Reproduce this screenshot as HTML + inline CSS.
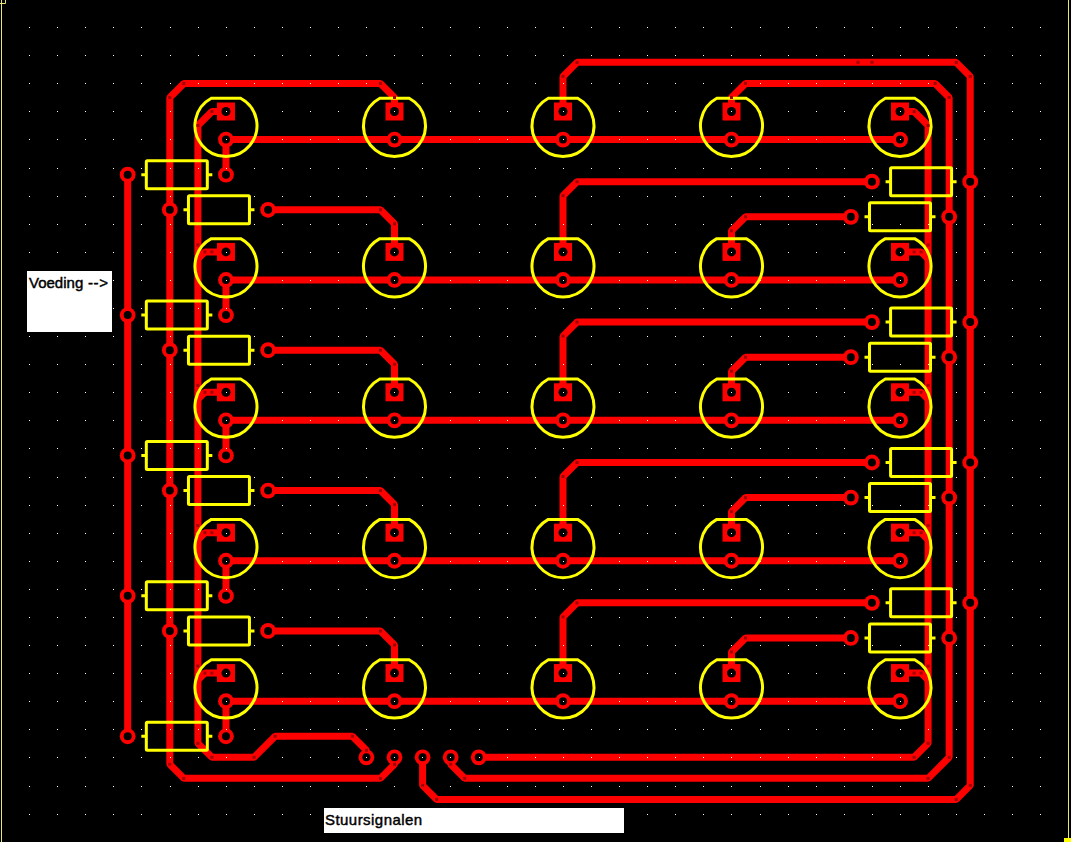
<!DOCTYPE html>
<html><head><meta charset="utf-8"><title>PCB</title>
<style>html,body{margin:0;padding:0;background:#000;width:1071px;height:842px;overflow:hidden}svg{display:block}.lbl{position:absolute;background:#fff;color:#000;font-family:"Liberation Sans",sans-serif;white-space:nowrap;overflow:hidden}</style></head><body>
<svg width="1071" height="842" viewBox="0 0 1071 842"  style="position:absolute;left:0;top:0">
<rect width="1071" height="842" fill="#000"/>
<g fill="none" stroke="#ff0000" stroke-width="7.0" stroke-linejoin="bevel" stroke-linecap="round">
<path d="M394.49 111.5 L394.49 97.46 L380.44 83.43 L183.85 83.43 L169.81 97.46 L169.81 764.32 L183.85 778.36 L380.44 778.36 L394.49 764.32 L394.49 757.3"/>
<path d="M225.97 111.5 L211.93 111.5 L197.89 125.54 L197.89 743.26 L211.93 757.3 L254.06 757.3 L275.12 736.24 L352.36 736.24 L366.4 750.28 L366.4 757.3"/>
<path d="M563.0 111.5 L563.0 76.41 L577.04 62.37 L956.19 62.37 L970.23 76.41 L970.23 785.38 L956.19 799.41 L436.61 799.41 L422.57 785.38 L422.57 757.3"/>
<path d="M731.5 111.5 L731.5 97.46 L745.55 83.43 L935.12 83.43 L949.16 97.46 L949.16 757.3 L928.1 778.36 L464.7 778.36 L450.66 764.32 L450.66 757.3"/>
<path d="M900.01 111.5 L914.06 111.5 L928.1 125.54 L928.1 743.26 L914.06 757.3 L478.74 757.3"/>
<path d="M127.68 174.68 L127.68 736.24"/>
<path d="M225.97 139.58 L900.01 139.58"/>
<path d="M225.97 139.58 L225.97 174.68"/>
<path d="M268.1 209.78 L380.44 209.78 L394.49 223.82 L394.49 251.89"/>
<path d="M871.93 181.7 L577.04 181.7 L563.0 195.74 L563.0 251.89"/>
<path d="M850.87 216.8 L745.55 216.8 L731.5 230.84 L731.5 251.89"/>
<path d="M225.97 279.97 L900.01 279.97"/>
<path d="M225.97 279.97 L225.97 315.07"/>
<path d="M225.97 251.89 L204.91 251.89 L197.89 258.91"/>
<path d="M900.01 251.89 L921.08 251.89 L928.1 258.91"/>
<path d="M268.1 350.17 L380.44 350.17 L394.49 364.21 L394.49 392.28"/>
<path d="M871.93 322.09 L577.04 322.09 L563.0 336.13 L563.0 392.28"/>
<path d="M850.87 357.19 L745.55 357.19 L731.5 371.23 L731.5 392.28"/>
<path d="M225.97 420.36 L900.01 420.36"/>
<path d="M225.97 420.36 L225.97 455.46"/>
<path d="M225.97 392.28 L204.91 392.28 L197.89 399.3"/>
<path d="M900.01 392.28 L921.08 392.28 L928.1 399.3"/>
<path d="M268.1 490.56 L380.44 490.56 L394.49 504.6 L394.49 532.67"/>
<path d="M871.93 462.48 L577.04 462.48 L563.0 476.52 L563.0 532.67"/>
<path d="M850.87 497.58 L745.55 497.58 L731.5 511.62 L731.5 532.67"/>
<path d="M225.97 560.75 L900.01 560.75"/>
<path d="M225.97 560.75 L225.97 595.85"/>
<path d="M225.97 532.67 L204.91 532.67 L197.89 539.69"/>
<path d="M900.01 532.67 L921.08 532.67 L928.1 539.69"/>
<path d="M268.1 630.95 L380.44 630.95 L394.49 644.99 L394.49 673.06"/>
<path d="M871.93 602.87 L577.04 602.87 L563.0 616.91 L563.0 673.06"/>
<path d="M850.87 637.97 L745.55 637.97 L731.5 652.01 L731.5 673.06"/>
<path d="M225.97 701.14 L900.01 701.14"/>
<path d="M225.97 701.14 L225.97 736.24"/>
<path d="M225.97 673.06 L204.91 673.06 L197.89 680.08"/>
<path d="M900.01 673.06 L921.08 673.06 L928.1 680.08"/>
</g>
<g fill="#ff0000">
<rect x="216.97" y="102.5" width="18" height="18"/>
<rect x="385.49" y="102.5" width="18" height="18"/>
<rect x="554.0" y="102.5" width="18" height="18"/>
<rect x="722.5" y="102.5" width="18" height="18"/>
<rect x="891.01" y="102.5" width="18" height="18"/>
<rect x="216.97" y="242.89" width="18" height="18"/>
<rect x="385.49" y="242.89" width="18" height="18"/>
<rect x="554.0" y="242.89" width="18" height="18"/>
<rect x="722.5" y="242.89" width="18" height="18"/>
<rect x="891.01" y="242.89" width="18" height="18"/>
<rect x="216.97" y="383.28" width="18" height="18"/>
<rect x="385.49" y="383.28" width="18" height="18"/>
<rect x="554.0" y="383.28" width="18" height="18"/>
<rect x="722.5" y="383.28" width="18" height="18"/>
<rect x="891.01" y="383.28" width="18" height="18"/>
<rect x="216.97" y="523.67" width="18" height="18"/>
<rect x="385.49" y="523.67" width="18" height="18"/>
<rect x="554.0" y="523.67" width="18" height="18"/>
<rect x="722.5" y="523.67" width="18" height="18"/>
<rect x="891.01" y="523.67" width="18" height="18"/>
<rect x="216.97" y="664.06" width="18" height="18"/>
<rect x="385.49" y="664.06" width="18" height="18"/>
<rect x="554.0" y="664.06" width="18" height="18"/>
<rect x="722.5" y="664.06" width="18" height="18"/>
<rect x="891.01" y="664.06" width="18" height="18"/>
<circle cx="225.97" cy="139.58" r="7.9"/>
<circle cx="394.49" cy="139.58" r="7.9"/>
<circle cx="563.0" cy="139.58" r="7.9"/>
<circle cx="731.5" cy="139.58" r="7.9"/>
<circle cx="900.01" cy="139.58" r="7.9"/>
<circle cx="225.97" cy="279.97" r="7.9"/>
<circle cx="394.49" cy="279.97" r="7.9"/>
<circle cx="563.0" cy="279.97" r="7.9"/>
<circle cx="731.5" cy="279.97" r="7.9"/>
<circle cx="900.01" cy="279.97" r="7.9"/>
<circle cx="225.97" cy="420.36" r="7.9"/>
<circle cx="394.49" cy="420.36" r="7.9"/>
<circle cx="563.0" cy="420.36" r="7.9"/>
<circle cx="731.5" cy="420.36" r="7.9"/>
<circle cx="900.01" cy="420.36" r="7.9"/>
<circle cx="225.97" cy="560.75" r="7.9"/>
<circle cx="394.49" cy="560.75" r="7.9"/>
<circle cx="563.0" cy="560.75" r="7.9"/>
<circle cx="731.5" cy="560.75" r="7.9"/>
<circle cx="900.01" cy="560.75" r="7.9"/>
<circle cx="225.97" cy="701.14" r="7.9"/>
<circle cx="394.49" cy="701.14" r="7.9"/>
<circle cx="563.0" cy="701.14" r="7.9"/>
<circle cx="731.5" cy="701.14" r="7.9"/>
<circle cx="900.01" cy="701.14" r="7.9"/>
<circle cx="127.68" cy="174.68" r="7.9"/>
<circle cx="225.97" cy="174.68" r="7.9"/>
<circle cx="127.68" cy="315.07" r="7.9"/>
<circle cx="225.97" cy="315.07" r="7.9"/>
<circle cx="127.68" cy="455.46" r="7.9"/>
<circle cx="225.97" cy="455.46" r="7.9"/>
<circle cx="127.68" cy="595.85" r="7.9"/>
<circle cx="225.97" cy="595.85" r="7.9"/>
<circle cx="127.68" cy="736.24" r="7.9"/>
<circle cx="225.97" cy="736.24" r="7.9"/>
<circle cx="169.81" cy="209.78" r="7.9"/>
<circle cx="268.1" cy="209.78" r="7.9"/>
<circle cx="169.81" cy="350.17" r="7.9"/>
<circle cx="268.1" cy="350.17" r="7.9"/>
<circle cx="169.81" cy="490.56" r="7.9"/>
<circle cx="268.1" cy="490.56" r="7.9"/>
<circle cx="169.81" cy="630.95" r="7.9"/>
<circle cx="268.1" cy="630.95" r="7.9"/>
<circle cx="871.93" cy="181.7" r="7.9"/>
<circle cx="970.23" cy="181.7" r="7.9"/>
<circle cx="871.93" cy="322.09" r="7.9"/>
<circle cx="970.23" cy="322.09" r="7.9"/>
<circle cx="871.93" cy="462.48" r="7.9"/>
<circle cx="970.23" cy="462.48" r="7.9"/>
<circle cx="871.93" cy="602.87" r="7.9"/>
<circle cx="970.23" cy="602.87" r="7.9"/>
<circle cx="850.87" cy="216.8" r="7.9"/>
<circle cx="949.16" cy="216.8" r="7.9"/>
<circle cx="850.87" cy="357.19" r="7.9"/>
<circle cx="949.16" cy="357.19" r="7.9"/>
<circle cx="850.87" cy="497.58" r="7.9"/>
<circle cx="949.16" cy="497.58" r="7.9"/>
<circle cx="850.87" cy="637.97" r="7.9"/>
<circle cx="949.16" cy="637.97" r="7.9"/>
<circle cx="366.4" cy="757.3" r="7.9"/>
<circle cx="394.49" cy="757.3" r="7.9"/>
<circle cx="422.57" cy="757.3" r="7.9"/>
<circle cx="450.66" cy="757.3" r="7.9"/>
<circle cx="478.74" cy="757.3" r="7.9"/>
</g>
<g fill="#000">
<circle cx="225.97" cy="111.5" r="4.5"/>
<circle cx="394.49" cy="111.5" r="4.5"/>
<circle cx="563.0" cy="111.5" r="4.5"/>
<circle cx="731.5" cy="111.5" r="4.5"/>
<circle cx="900.01" cy="111.5" r="4.5"/>
<circle cx="225.97" cy="251.89" r="4.5"/>
<circle cx="394.49" cy="251.89" r="4.5"/>
<circle cx="563.0" cy="251.89" r="4.5"/>
<circle cx="731.5" cy="251.89" r="4.5"/>
<circle cx="900.01" cy="251.89" r="4.5"/>
<circle cx="225.97" cy="392.28" r="4.5"/>
<circle cx="394.49" cy="392.28" r="4.5"/>
<circle cx="563.0" cy="392.28" r="4.5"/>
<circle cx="731.5" cy="392.28" r="4.5"/>
<circle cx="900.01" cy="392.28" r="4.5"/>
<circle cx="225.97" cy="532.67" r="4.5"/>
<circle cx="394.49" cy="532.67" r="4.5"/>
<circle cx="563.0" cy="532.67" r="4.5"/>
<circle cx="731.5" cy="532.67" r="4.5"/>
<circle cx="900.01" cy="532.67" r="4.5"/>
<circle cx="225.97" cy="673.06" r="4.5"/>
<circle cx="394.49" cy="673.06" r="4.5"/>
<circle cx="563.0" cy="673.06" r="4.5"/>
<circle cx="731.5" cy="673.06" r="4.5"/>
<circle cx="900.01" cy="673.06" r="4.5"/>
<circle cx="225.97" cy="139.58" r="4.0"/>
<circle cx="394.49" cy="139.58" r="4.0"/>
<circle cx="563.0" cy="139.58" r="4.0"/>
<circle cx="731.5" cy="139.58" r="4.0"/>
<circle cx="900.01" cy="139.58" r="4.0"/>
<circle cx="225.97" cy="279.97" r="4.0"/>
<circle cx="394.49" cy="279.97" r="4.0"/>
<circle cx="563.0" cy="279.97" r="4.0"/>
<circle cx="731.5" cy="279.97" r="4.0"/>
<circle cx="900.01" cy="279.97" r="4.0"/>
<circle cx="225.97" cy="420.36" r="4.0"/>
<circle cx="394.49" cy="420.36" r="4.0"/>
<circle cx="563.0" cy="420.36" r="4.0"/>
<circle cx="731.5" cy="420.36" r="4.0"/>
<circle cx="900.01" cy="420.36" r="4.0"/>
<circle cx="225.97" cy="560.75" r="4.0"/>
<circle cx="394.49" cy="560.75" r="4.0"/>
<circle cx="563.0" cy="560.75" r="4.0"/>
<circle cx="731.5" cy="560.75" r="4.0"/>
<circle cx="900.01" cy="560.75" r="4.0"/>
<circle cx="225.97" cy="701.14" r="4.0"/>
<circle cx="394.49" cy="701.14" r="4.0"/>
<circle cx="563.0" cy="701.14" r="4.0"/>
<circle cx="731.5" cy="701.14" r="4.0"/>
<circle cx="900.01" cy="701.14" r="4.0"/>
<circle cx="127.68" cy="174.68" r="4.0"/>
<circle cx="225.97" cy="174.68" r="4.0"/>
<circle cx="127.68" cy="315.07" r="4.0"/>
<circle cx="225.97" cy="315.07" r="4.0"/>
<circle cx="127.68" cy="455.46" r="4.0"/>
<circle cx="225.97" cy="455.46" r="4.0"/>
<circle cx="127.68" cy="595.85" r="4.0"/>
<circle cx="225.97" cy="595.85" r="4.0"/>
<circle cx="127.68" cy="736.24" r="4.0"/>
<circle cx="225.97" cy="736.24" r="4.0"/>
<circle cx="169.81" cy="209.78" r="4.0"/>
<circle cx="268.1" cy="209.78" r="4.0"/>
<circle cx="169.81" cy="350.17" r="4.0"/>
<circle cx="268.1" cy="350.17" r="4.0"/>
<circle cx="169.81" cy="490.56" r="4.0"/>
<circle cx="268.1" cy="490.56" r="4.0"/>
<circle cx="169.81" cy="630.95" r="4.0"/>
<circle cx="268.1" cy="630.95" r="4.0"/>
<circle cx="871.93" cy="181.7" r="4.0"/>
<circle cx="970.23" cy="181.7" r="4.0"/>
<circle cx="871.93" cy="322.09" r="4.0"/>
<circle cx="970.23" cy="322.09" r="4.0"/>
<circle cx="871.93" cy="462.48" r="4.0"/>
<circle cx="970.23" cy="462.48" r="4.0"/>
<circle cx="871.93" cy="602.87" r="4.0"/>
<circle cx="970.23" cy="602.87" r="4.0"/>
<circle cx="850.87" cy="216.8" r="4.0"/>
<circle cx="949.16" cy="216.8" r="4.0"/>
<circle cx="850.87" cy="357.19" r="4.0"/>
<circle cx="949.16" cy="357.19" r="4.0"/>
<circle cx="850.87" cy="497.58" r="4.0"/>
<circle cx="949.16" cy="497.58" r="4.0"/>
<circle cx="850.87" cy="637.97" r="4.0"/>
<circle cx="949.16" cy="637.97" r="4.0"/>
<circle cx="366.4" cy="757.3" r="4.0"/>
<circle cx="394.49" cy="757.3" r="4.0"/>
<circle cx="422.57" cy="757.3" r="4.0"/>
<circle cx="450.66" cy="757.3" r="4.0"/>
<circle cx="478.74" cy="757.3" r="4.0"/>
</g>
<g fill="#fff">
<rect x="29" y="27" width="1" height="1"/>
<rect x="29" y="55" width="1" height="1"/>
<rect x="29" y="83" width="1" height="1"/>
<rect x="29" y="111" width="1" height="1"/>
<rect x="29" y="139" width="1" height="1"/>
<rect x="29" y="168" width="1" height="1"/>
<rect x="29" y="196" width="1" height="1"/>
<rect x="29" y="224" width="1" height="1"/>
<rect x="29" y="252" width="1" height="1"/>
<rect x="29" y="280" width="1" height="1"/>
<rect x="29" y="308" width="1" height="1"/>
<rect x="29" y="336" width="1" height="1"/>
<rect x="29" y="364" width="1" height="1"/>
<rect x="29" y="392" width="1" height="1"/>
<rect x="29" y="420" width="1" height="1"/>
<rect x="29" y="448" width="1" height="1"/>
<rect x="29" y="477" width="1" height="1"/>
<rect x="29" y="505" width="1" height="1"/>
<rect x="29" y="533" width="1" height="1"/>
<rect x="29" y="561" width="1" height="1"/>
<rect x="29" y="589" width="1" height="1"/>
<rect x="29" y="617" width="1" height="1"/>
<rect x="29" y="645" width="1" height="1"/>
<rect x="29" y="673" width="1" height="1"/>
<rect x="29" y="701" width="1" height="1"/>
<rect x="29" y="729" width="1" height="1"/>
<rect x="29" y="757" width="1" height="1"/>
<rect x="29" y="786" width="1" height="1"/>
<rect x="29" y="814" width="1" height="1"/>
<rect x="57" y="27" width="1" height="1"/>
<rect x="57" y="55" width="1" height="1"/>
<rect x="57" y="83" width="1" height="1"/>
<rect x="57" y="111" width="1" height="1"/>
<rect x="57" y="139" width="1" height="1"/>
<rect x="57" y="168" width="1" height="1"/>
<rect x="57" y="196" width="1" height="1"/>
<rect x="57" y="224" width="1" height="1"/>
<rect x="57" y="252" width="1" height="1"/>
<rect x="57" y="280" width="1" height="1"/>
<rect x="57" y="308" width="1" height="1"/>
<rect x="57" y="336" width="1" height="1"/>
<rect x="57" y="364" width="1" height="1"/>
<rect x="57" y="392" width="1" height="1"/>
<rect x="57" y="420" width="1" height="1"/>
<rect x="57" y="448" width="1" height="1"/>
<rect x="57" y="477" width="1" height="1"/>
<rect x="57" y="505" width="1" height="1"/>
<rect x="57" y="533" width="1" height="1"/>
<rect x="57" y="561" width="1" height="1"/>
<rect x="57" y="589" width="1" height="1"/>
<rect x="57" y="617" width="1" height="1"/>
<rect x="57" y="645" width="1" height="1"/>
<rect x="57" y="673" width="1" height="1"/>
<rect x="57" y="701" width="1" height="1"/>
<rect x="57" y="729" width="1" height="1"/>
<rect x="57" y="757" width="1" height="1"/>
<rect x="57" y="786" width="1" height="1"/>
<rect x="57" y="814" width="1" height="1"/>
<rect x="85" y="27" width="1" height="1"/>
<rect x="85" y="55" width="1" height="1"/>
<rect x="85" y="83" width="1" height="1"/>
<rect x="85" y="111" width="1" height="1"/>
<rect x="85" y="139" width="1" height="1"/>
<rect x="85" y="168" width="1" height="1"/>
<rect x="85" y="196" width="1" height="1"/>
<rect x="85" y="224" width="1" height="1"/>
<rect x="85" y="252" width="1" height="1"/>
<rect x="85" y="280" width="1" height="1"/>
<rect x="85" y="308" width="1" height="1"/>
<rect x="85" y="336" width="1" height="1"/>
<rect x="85" y="364" width="1" height="1"/>
<rect x="85" y="392" width="1" height="1"/>
<rect x="85" y="420" width="1" height="1"/>
<rect x="85" y="448" width="1" height="1"/>
<rect x="85" y="477" width="1" height="1"/>
<rect x="85" y="505" width="1" height="1"/>
<rect x="85" y="533" width="1" height="1"/>
<rect x="85" y="561" width="1" height="1"/>
<rect x="85" y="589" width="1" height="1"/>
<rect x="85" y="617" width="1" height="1"/>
<rect x="85" y="645" width="1" height="1"/>
<rect x="85" y="673" width="1" height="1"/>
<rect x="85" y="701" width="1" height="1"/>
<rect x="85" y="729" width="1" height="1"/>
<rect x="85" y="757" width="1" height="1"/>
<rect x="85" y="786" width="1" height="1"/>
<rect x="85" y="814" width="1" height="1"/>
<rect x="113" y="27" width="1" height="1"/>
<rect x="113" y="55" width="1" height="1"/>
<rect x="113" y="83" width="1" height="1"/>
<rect x="113" y="111" width="1" height="1"/>
<rect x="113" y="139" width="1" height="1"/>
<rect x="113" y="168" width="1" height="1"/>
<rect x="113" y="196" width="1" height="1"/>
<rect x="113" y="224" width="1" height="1"/>
<rect x="113" y="252" width="1" height="1"/>
<rect x="113" y="280" width="1" height="1"/>
<rect x="113" y="308" width="1" height="1"/>
<rect x="113" y="336" width="1" height="1"/>
<rect x="113" y="364" width="1" height="1"/>
<rect x="113" y="392" width="1" height="1"/>
<rect x="113" y="420" width="1" height="1"/>
<rect x="113" y="448" width="1" height="1"/>
<rect x="113" y="477" width="1" height="1"/>
<rect x="113" y="505" width="1" height="1"/>
<rect x="113" y="533" width="1" height="1"/>
<rect x="113" y="561" width="1" height="1"/>
<rect x="113" y="589" width="1" height="1"/>
<rect x="113" y="617" width="1" height="1"/>
<rect x="113" y="645" width="1" height="1"/>
<rect x="113" y="673" width="1" height="1"/>
<rect x="113" y="701" width="1" height="1"/>
<rect x="113" y="729" width="1" height="1"/>
<rect x="113" y="757" width="1" height="1"/>
<rect x="113" y="786" width="1" height="1"/>
<rect x="113" y="814" width="1" height="1"/>
<rect x="141" y="27" width="1" height="1"/>
<rect x="141" y="55" width="1" height="1"/>
<rect x="141" y="83" width="1" height="1"/>
<rect x="141" y="111" width="1" height="1"/>
<rect x="141" y="139" width="1" height="1"/>
<rect x="141" y="168" width="1" height="1"/>
<rect x="141" y="196" width="1" height="1"/>
<rect x="141" y="224" width="1" height="1"/>
<rect x="141" y="252" width="1" height="1"/>
<rect x="141" y="280" width="1" height="1"/>
<rect x="141" y="308" width="1" height="1"/>
<rect x="141" y="336" width="1" height="1"/>
<rect x="141" y="364" width="1" height="1"/>
<rect x="141" y="392" width="1" height="1"/>
<rect x="141" y="420" width="1" height="1"/>
<rect x="141" y="448" width="1" height="1"/>
<rect x="141" y="477" width="1" height="1"/>
<rect x="141" y="505" width="1" height="1"/>
<rect x="141" y="533" width="1" height="1"/>
<rect x="141" y="561" width="1" height="1"/>
<rect x="141" y="589" width="1" height="1"/>
<rect x="141" y="617" width="1" height="1"/>
<rect x="141" y="645" width="1" height="1"/>
<rect x="141" y="673" width="1" height="1"/>
<rect x="141" y="701" width="1" height="1"/>
<rect x="141" y="729" width="1" height="1"/>
<rect x="141" y="757" width="1" height="1"/>
<rect x="141" y="786" width="1" height="1"/>
<rect x="141" y="814" width="1" height="1"/>
<rect x="170" y="27" width="1" height="1"/>
<rect x="170" y="55" width="1" height="1"/>
<rect x="170" y="83" width="1" height="1"/>
<rect x="170" y="111" width="1" height="1"/>
<rect x="170" y="139" width="1" height="1"/>
<rect x="170" y="168" width="1" height="1"/>
<rect x="170" y="196" width="1" height="1"/>
<rect x="170" y="224" width="1" height="1"/>
<rect x="170" y="252" width="1" height="1"/>
<rect x="170" y="280" width="1" height="1"/>
<rect x="170" y="308" width="1" height="1"/>
<rect x="170" y="336" width="1" height="1"/>
<rect x="170" y="364" width="1" height="1"/>
<rect x="170" y="392" width="1" height="1"/>
<rect x="170" y="420" width="1" height="1"/>
<rect x="170" y="448" width="1" height="1"/>
<rect x="170" y="477" width="1" height="1"/>
<rect x="170" y="505" width="1" height="1"/>
<rect x="170" y="533" width="1" height="1"/>
<rect x="170" y="561" width="1" height="1"/>
<rect x="170" y="589" width="1" height="1"/>
<rect x="170" y="617" width="1" height="1"/>
<rect x="170" y="645" width="1" height="1"/>
<rect x="170" y="673" width="1" height="1"/>
<rect x="170" y="701" width="1" height="1"/>
<rect x="170" y="729" width="1" height="1"/>
<rect x="170" y="757" width="1" height="1"/>
<rect x="170" y="786" width="1" height="1"/>
<rect x="170" y="814" width="1" height="1"/>
<rect x="198" y="27" width="1" height="1"/>
<rect x="198" y="55" width="1" height="1"/>
<rect x="198" y="83" width="1" height="1"/>
<rect x="198" y="111" width="1" height="1"/>
<rect x="198" y="139" width="1" height="1"/>
<rect x="198" y="168" width="1" height="1"/>
<rect x="198" y="196" width="1" height="1"/>
<rect x="198" y="224" width="1" height="1"/>
<rect x="198" y="252" width="1" height="1"/>
<rect x="198" y="280" width="1" height="1"/>
<rect x="198" y="308" width="1" height="1"/>
<rect x="198" y="336" width="1" height="1"/>
<rect x="198" y="364" width="1" height="1"/>
<rect x="198" y="392" width="1" height="1"/>
<rect x="198" y="420" width="1" height="1"/>
<rect x="198" y="448" width="1" height="1"/>
<rect x="198" y="477" width="1" height="1"/>
<rect x="198" y="505" width="1" height="1"/>
<rect x="198" y="533" width="1" height="1"/>
<rect x="198" y="561" width="1" height="1"/>
<rect x="198" y="589" width="1" height="1"/>
<rect x="198" y="617" width="1" height="1"/>
<rect x="198" y="645" width="1" height="1"/>
<rect x="198" y="673" width="1" height="1"/>
<rect x="198" y="701" width="1" height="1"/>
<rect x="198" y="729" width="1" height="1"/>
<rect x="198" y="757" width="1" height="1"/>
<rect x="198" y="786" width="1" height="1"/>
<rect x="198" y="814" width="1" height="1"/>
<rect x="226" y="27" width="1" height="1"/>
<rect x="226" y="55" width="1" height="1"/>
<rect x="226" y="83" width="1" height="1"/>
<rect x="226" y="111" width="1" height="1"/>
<rect x="226" y="139" width="1" height="1"/>
<rect x="226" y="168" width="1" height="1"/>
<rect x="226" y="196" width="1" height="1"/>
<rect x="226" y="224" width="1" height="1"/>
<rect x="226" y="252" width="1" height="1"/>
<rect x="226" y="280" width="1" height="1"/>
<rect x="226" y="308" width="1" height="1"/>
<rect x="226" y="336" width="1" height="1"/>
<rect x="226" y="364" width="1" height="1"/>
<rect x="226" y="392" width="1" height="1"/>
<rect x="226" y="420" width="1" height="1"/>
<rect x="226" y="448" width="1" height="1"/>
<rect x="226" y="477" width="1" height="1"/>
<rect x="226" y="505" width="1" height="1"/>
<rect x="226" y="533" width="1" height="1"/>
<rect x="226" y="561" width="1" height="1"/>
<rect x="226" y="589" width="1" height="1"/>
<rect x="226" y="617" width="1" height="1"/>
<rect x="226" y="645" width="1" height="1"/>
<rect x="226" y="673" width="1" height="1"/>
<rect x="226" y="701" width="1" height="1"/>
<rect x="226" y="729" width="1" height="1"/>
<rect x="226" y="757" width="1" height="1"/>
<rect x="226" y="786" width="1" height="1"/>
<rect x="226" y="814" width="1" height="1"/>
<rect x="254" y="27" width="1" height="1"/>
<rect x="254" y="55" width="1" height="1"/>
<rect x="254" y="83" width="1" height="1"/>
<rect x="254" y="111" width="1" height="1"/>
<rect x="254" y="139" width="1" height="1"/>
<rect x="254" y="168" width="1" height="1"/>
<rect x="254" y="196" width="1" height="1"/>
<rect x="254" y="224" width="1" height="1"/>
<rect x="254" y="252" width="1" height="1"/>
<rect x="254" y="280" width="1" height="1"/>
<rect x="254" y="308" width="1" height="1"/>
<rect x="254" y="336" width="1" height="1"/>
<rect x="254" y="364" width="1" height="1"/>
<rect x="254" y="392" width="1" height="1"/>
<rect x="254" y="420" width="1" height="1"/>
<rect x="254" y="448" width="1" height="1"/>
<rect x="254" y="477" width="1" height="1"/>
<rect x="254" y="505" width="1" height="1"/>
<rect x="254" y="533" width="1" height="1"/>
<rect x="254" y="561" width="1" height="1"/>
<rect x="254" y="589" width="1" height="1"/>
<rect x="254" y="617" width="1" height="1"/>
<rect x="254" y="645" width="1" height="1"/>
<rect x="254" y="673" width="1" height="1"/>
<rect x="254" y="701" width="1" height="1"/>
<rect x="254" y="729" width="1" height="1"/>
<rect x="254" y="757" width="1" height="1"/>
<rect x="254" y="786" width="1" height="1"/>
<rect x="254" y="814" width="1" height="1"/>
<rect x="282" y="27" width="1" height="1"/>
<rect x="282" y="55" width="1" height="1"/>
<rect x="282" y="83" width="1" height="1"/>
<rect x="282" y="111" width="1" height="1"/>
<rect x="282" y="139" width="1" height="1"/>
<rect x="282" y="168" width="1" height="1"/>
<rect x="282" y="196" width="1" height="1"/>
<rect x="282" y="224" width="1" height="1"/>
<rect x="282" y="252" width="1" height="1"/>
<rect x="282" y="280" width="1" height="1"/>
<rect x="282" y="308" width="1" height="1"/>
<rect x="282" y="336" width="1" height="1"/>
<rect x="282" y="364" width="1" height="1"/>
<rect x="282" y="392" width="1" height="1"/>
<rect x="282" y="420" width="1" height="1"/>
<rect x="282" y="448" width="1" height="1"/>
<rect x="282" y="477" width="1" height="1"/>
<rect x="282" y="505" width="1" height="1"/>
<rect x="282" y="533" width="1" height="1"/>
<rect x="282" y="561" width="1" height="1"/>
<rect x="282" y="589" width="1" height="1"/>
<rect x="282" y="617" width="1" height="1"/>
<rect x="282" y="645" width="1" height="1"/>
<rect x="282" y="673" width="1" height="1"/>
<rect x="282" y="701" width="1" height="1"/>
<rect x="282" y="729" width="1" height="1"/>
<rect x="282" y="757" width="1" height="1"/>
<rect x="282" y="786" width="1" height="1"/>
<rect x="282" y="814" width="1" height="1"/>
<rect x="310" y="27" width="1" height="1"/>
<rect x="310" y="55" width="1" height="1"/>
<rect x="310" y="83" width="1" height="1"/>
<rect x="310" y="111" width="1" height="1"/>
<rect x="310" y="139" width="1" height="1"/>
<rect x="310" y="168" width="1" height="1"/>
<rect x="310" y="196" width="1" height="1"/>
<rect x="310" y="224" width="1" height="1"/>
<rect x="310" y="252" width="1" height="1"/>
<rect x="310" y="280" width="1" height="1"/>
<rect x="310" y="308" width="1" height="1"/>
<rect x="310" y="336" width="1" height="1"/>
<rect x="310" y="364" width="1" height="1"/>
<rect x="310" y="392" width="1" height="1"/>
<rect x="310" y="420" width="1" height="1"/>
<rect x="310" y="448" width="1" height="1"/>
<rect x="310" y="477" width="1" height="1"/>
<rect x="310" y="505" width="1" height="1"/>
<rect x="310" y="533" width="1" height="1"/>
<rect x="310" y="561" width="1" height="1"/>
<rect x="310" y="589" width="1" height="1"/>
<rect x="310" y="617" width="1" height="1"/>
<rect x="310" y="645" width="1" height="1"/>
<rect x="310" y="673" width="1" height="1"/>
<rect x="310" y="701" width="1" height="1"/>
<rect x="310" y="729" width="1" height="1"/>
<rect x="310" y="757" width="1" height="1"/>
<rect x="310" y="786" width="1" height="1"/>
<rect x="310" y="814" width="1" height="1"/>
<rect x="338" y="27" width="1" height="1"/>
<rect x="338" y="55" width="1" height="1"/>
<rect x="338" y="83" width="1" height="1"/>
<rect x="338" y="111" width="1" height="1"/>
<rect x="338" y="139" width="1" height="1"/>
<rect x="338" y="168" width="1" height="1"/>
<rect x="338" y="196" width="1" height="1"/>
<rect x="338" y="224" width="1" height="1"/>
<rect x="338" y="252" width="1" height="1"/>
<rect x="338" y="280" width="1" height="1"/>
<rect x="338" y="308" width="1" height="1"/>
<rect x="338" y="336" width="1" height="1"/>
<rect x="338" y="364" width="1" height="1"/>
<rect x="338" y="392" width="1" height="1"/>
<rect x="338" y="420" width="1" height="1"/>
<rect x="338" y="448" width="1" height="1"/>
<rect x="338" y="477" width="1" height="1"/>
<rect x="338" y="505" width="1" height="1"/>
<rect x="338" y="533" width="1" height="1"/>
<rect x="338" y="561" width="1" height="1"/>
<rect x="338" y="589" width="1" height="1"/>
<rect x="338" y="617" width="1" height="1"/>
<rect x="338" y="645" width="1" height="1"/>
<rect x="338" y="673" width="1" height="1"/>
<rect x="338" y="701" width="1" height="1"/>
<rect x="338" y="729" width="1" height="1"/>
<rect x="338" y="757" width="1" height="1"/>
<rect x="338" y="786" width="1" height="1"/>
<rect x="338" y="814" width="1" height="1"/>
<rect x="366" y="27" width="1" height="1"/>
<rect x="366" y="55" width="1" height="1"/>
<rect x="366" y="83" width="1" height="1"/>
<rect x="366" y="111" width="1" height="1"/>
<rect x="366" y="139" width="1" height="1"/>
<rect x="366" y="168" width="1" height="1"/>
<rect x="366" y="196" width="1" height="1"/>
<rect x="366" y="224" width="1" height="1"/>
<rect x="366" y="252" width="1" height="1"/>
<rect x="366" y="280" width="1" height="1"/>
<rect x="366" y="308" width="1" height="1"/>
<rect x="366" y="336" width="1" height="1"/>
<rect x="366" y="364" width="1" height="1"/>
<rect x="366" y="392" width="1" height="1"/>
<rect x="366" y="420" width="1" height="1"/>
<rect x="366" y="448" width="1" height="1"/>
<rect x="366" y="477" width="1" height="1"/>
<rect x="366" y="505" width="1" height="1"/>
<rect x="366" y="533" width="1" height="1"/>
<rect x="366" y="561" width="1" height="1"/>
<rect x="366" y="589" width="1" height="1"/>
<rect x="366" y="617" width="1" height="1"/>
<rect x="366" y="645" width="1" height="1"/>
<rect x="366" y="673" width="1" height="1"/>
<rect x="366" y="701" width="1" height="1"/>
<rect x="366" y="729" width="1" height="1"/>
<rect x="366" y="757" width="1" height="1"/>
<rect x="366" y="786" width="1" height="1"/>
<rect x="366" y="814" width="1" height="1"/>
<rect x="394" y="27" width="1" height="1"/>
<rect x="394" y="55" width="1" height="1"/>
<rect x="394" y="83" width="1" height="1"/>
<rect x="394" y="111" width="1" height="1"/>
<rect x="394" y="139" width="1" height="1"/>
<rect x="394" y="168" width="1" height="1"/>
<rect x="394" y="196" width="1" height="1"/>
<rect x="394" y="224" width="1" height="1"/>
<rect x="394" y="252" width="1" height="1"/>
<rect x="394" y="280" width="1" height="1"/>
<rect x="394" y="308" width="1" height="1"/>
<rect x="394" y="336" width="1" height="1"/>
<rect x="394" y="364" width="1" height="1"/>
<rect x="394" y="392" width="1" height="1"/>
<rect x="394" y="420" width="1" height="1"/>
<rect x="394" y="448" width="1" height="1"/>
<rect x="394" y="477" width="1" height="1"/>
<rect x="394" y="505" width="1" height="1"/>
<rect x="394" y="533" width="1" height="1"/>
<rect x="394" y="561" width="1" height="1"/>
<rect x="394" y="589" width="1" height="1"/>
<rect x="394" y="617" width="1" height="1"/>
<rect x="394" y="645" width="1" height="1"/>
<rect x="394" y="673" width="1" height="1"/>
<rect x="394" y="701" width="1" height="1"/>
<rect x="394" y="729" width="1" height="1"/>
<rect x="394" y="757" width="1" height="1"/>
<rect x="394" y="786" width="1" height="1"/>
<rect x="394" y="814" width="1" height="1"/>
<rect x="422" y="27" width="1" height="1"/>
<rect x="422" y="55" width="1" height="1"/>
<rect x="422" y="83" width="1" height="1"/>
<rect x="422" y="111" width="1" height="1"/>
<rect x="422" y="139" width="1" height="1"/>
<rect x="422" y="168" width="1" height="1"/>
<rect x="422" y="196" width="1" height="1"/>
<rect x="422" y="224" width="1" height="1"/>
<rect x="422" y="252" width="1" height="1"/>
<rect x="422" y="280" width="1" height="1"/>
<rect x="422" y="308" width="1" height="1"/>
<rect x="422" y="336" width="1" height="1"/>
<rect x="422" y="364" width="1" height="1"/>
<rect x="422" y="392" width="1" height="1"/>
<rect x="422" y="420" width="1" height="1"/>
<rect x="422" y="448" width="1" height="1"/>
<rect x="422" y="477" width="1" height="1"/>
<rect x="422" y="505" width="1" height="1"/>
<rect x="422" y="533" width="1" height="1"/>
<rect x="422" y="561" width="1" height="1"/>
<rect x="422" y="589" width="1" height="1"/>
<rect x="422" y="617" width="1" height="1"/>
<rect x="422" y="645" width="1" height="1"/>
<rect x="422" y="673" width="1" height="1"/>
<rect x="422" y="701" width="1" height="1"/>
<rect x="422" y="729" width="1" height="1"/>
<rect x="422" y="757" width="1" height="1"/>
<rect x="422" y="786" width="1" height="1"/>
<rect x="422" y="814" width="1" height="1"/>
<rect x="450" y="27" width="1" height="1"/>
<rect x="450" y="55" width="1" height="1"/>
<rect x="450" y="83" width="1" height="1"/>
<rect x="450" y="111" width="1" height="1"/>
<rect x="450" y="139" width="1" height="1"/>
<rect x="450" y="168" width="1" height="1"/>
<rect x="450" y="196" width="1" height="1"/>
<rect x="450" y="224" width="1" height="1"/>
<rect x="450" y="252" width="1" height="1"/>
<rect x="450" y="280" width="1" height="1"/>
<rect x="450" y="308" width="1" height="1"/>
<rect x="450" y="336" width="1" height="1"/>
<rect x="450" y="364" width="1" height="1"/>
<rect x="450" y="392" width="1" height="1"/>
<rect x="450" y="420" width="1" height="1"/>
<rect x="450" y="448" width="1" height="1"/>
<rect x="450" y="477" width="1" height="1"/>
<rect x="450" y="505" width="1" height="1"/>
<rect x="450" y="533" width="1" height="1"/>
<rect x="450" y="561" width="1" height="1"/>
<rect x="450" y="589" width="1" height="1"/>
<rect x="450" y="617" width="1" height="1"/>
<rect x="450" y="645" width="1" height="1"/>
<rect x="450" y="673" width="1" height="1"/>
<rect x="450" y="701" width="1" height="1"/>
<rect x="450" y="729" width="1" height="1"/>
<rect x="450" y="757" width="1" height="1"/>
<rect x="450" y="786" width="1" height="1"/>
<rect x="450" y="814" width="1" height="1"/>
<rect x="479" y="27" width="1" height="1"/>
<rect x="479" y="55" width="1" height="1"/>
<rect x="479" y="83" width="1" height="1"/>
<rect x="479" y="111" width="1" height="1"/>
<rect x="479" y="139" width="1" height="1"/>
<rect x="479" y="168" width="1" height="1"/>
<rect x="479" y="196" width="1" height="1"/>
<rect x="479" y="224" width="1" height="1"/>
<rect x="479" y="252" width="1" height="1"/>
<rect x="479" y="280" width="1" height="1"/>
<rect x="479" y="308" width="1" height="1"/>
<rect x="479" y="336" width="1" height="1"/>
<rect x="479" y="364" width="1" height="1"/>
<rect x="479" y="392" width="1" height="1"/>
<rect x="479" y="420" width="1" height="1"/>
<rect x="479" y="448" width="1" height="1"/>
<rect x="479" y="477" width="1" height="1"/>
<rect x="479" y="505" width="1" height="1"/>
<rect x="479" y="533" width="1" height="1"/>
<rect x="479" y="561" width="1" height="1"/>
<rect x="479" y="589" width="1" height="1"/>
<rect x="479" y="617" width="1" height="1"/>
<rect x="479" y="645" width="1" height="1"/>
<rect x="479" y="673" width="1" height="1"/>
<rect x="479" y="701" width="1" height="1"/>
<rect x="479" y="729" width="1" height="1"/>
<rect x="479" y="757" width="1" height="1"/>
<rect x="479" y="786" width="1" height="1"/>
<rect x="479" y="814" width="1" height="1"/>
<rect x="507" y="27" width="1" height="1"/>
<rect x="507" y="55" width="1" height="1"/>
<rect x="507" y="83" width="1" height="1"/>
<rect x="507" y="111" width="1" height="1"/>
<rect x="507" y="139" width="1" height="1"/>
<rect x="507" y="168" width="1" height="1"/>
<rect x="507" y="196" width="1" height="1"/>
<rect x="507" y="224" width="1" height="1"/>
<rect x="507" y="252" width="1" height="1"/>
<rect x="507" y="280" width="1" height="1"/>
<rect x="507" y="308" width="1" height="1"/>
<rect x="507" y="336" width="1" height="1"/>
<rect x="507" y="364" width="1" height="1"/>
<rect x="507" y="392" width="1" height="1"/>
<rect x="507" y="420" width="1" height="1"/>
<rect x="507" y="448" width="1" height="1"/>
<rect x="507" y="477" width="1" height="1"/>
<rect x="507" y="505" width="1" height="1"/>
<rect x="507" y="533" width="1" height="1"/>
<rect x="507" y="561" width="1" height="1"/>
<rect x="507" y="589" width="1" height="1"/>
<rect x="507" y="617" width="1" height="1"/>
<rect x="507" y="645" width="1" height="1"/>
<rect x="507" y="673" width="1" height="1"/>
<rect x="507" y="701" width="1" height="1"/>
<rect x="507" y="729" width="1" height="1"/>
<rect x="507" y="757" width="1" height="1"/>
<rect x="507" y="786" width="1" height="1"/>
<rect x="507" y="814" width="1" height="1"/>
<rect x="535" y="27" width="1" height="1"/>
<rect x="535" y="55" width="1" height="1"/>
<rect x="535" y="83" width="1" height="1"/>
<rect x="535" y="111" width="1" height="1"/>
<rect x="535" y="139" width="1" height="1"/>
<rect x="535" y="168" width="1" height="1"/>
<rect x="535" y="196" width="1" height="1"/>
<rect x="535" y="224" width="1" height="1"/>
<rect x="535" y="252" width="1" height="1"/>
<rect x="535" y="280" width="1" height="1"/>
<rect x="535" y="308" width="1" height="1"/>
<rect x="535" y="336" width="1" height="1"/>
<rect x="535" y="364" width="1" height="1"/>
<rect x="535" y="392" width="1" height="1"/>
<rect x="535" y="420" width="1" height="1"/>
<rect x="535" y="448" width="1" height="1"/>
<rect x="535" y="477" width="1" height="1"/>
<rect x="535" y="505" width="1" height="1"/>
<rect x="535" y="533" width="1" height="1"/>
<rect x="535" y="561" width="1" height="1"/>
<rect x="535" y="589" width="1" height="1"/>
<rect x="535" y="617" width="1" height="1"/>
<rect x="535" y="645" width="1" height="1"/>
<rect x="535" y="673" width="1" height="1"/>
<rect x="535" y="701" width="1" height="1"/>
<rect x="535" y="729" width="1" height="1"/>
<rect x="535" y="757" width="1" height="1"/>
<rect x="535" y="786" width="1" height="1"/>
<rect x="535" y="814" width="1" height="1"/>
<rect x="563" y="27" width="1" height="1"/>
<rect x="563" y="55" width="1" height="1"/>
<rect x="563" y="83" width="1" height="1"/>
<rect x="563" y="111" width="1" height="1"/>
<rect x="563" y="139" width="1" height="1"/>
<rect x="563" y="168" width="1" height="1"/>
<rect x="563" y="196" width="1" height="1"/>
<rect x="563" y="224" width="1" height="1"/>
<rect x="563" y="252" width="1" height="1"/>
<rect x="563" y="280" width="1" height="1"/>
<rect x="563" y="308" width="1" height="1"/>
<rect x="563" y="336" width="1" height="1"/>
<rect x="563" y="364" width="1" height="1"/>
<rect x="563" y="392" width="1" height="1"/>
<rect x="563" y="420" width="1" height="1"/>
<rect x="563" y="448" width="1" height="1"/>
<rect x="563" y="477" width="1" height="1"/>
<rect x="563" y="505" width="1" height="1"/>
<rect x="563" y="533" width="1" height="1"/>
<rect x="563" y="561" width="1" height="1"/>
<rect x="563" y="589" width="1" height="1"/>
<rect x="563" y="617" width="1" height="1"/>
<rect x="563" y="645" width="1" height="1"/>
<rect x="563" y="673" width="1" height="1"/>
<rect x="563" y="701" width="1" height="1"/>
<rect x="563" y="729" width="1" height="1"/>
<rect x="563" y="757" width="1" height="1"/>
<rect x="563" y="786" width="1" height="1"/>
<rect x="563" y="814" width="1" height="1"/>
<rect x="591" y="27" width="1" height="1"/>
<rect x="591" y="55" width="1" height="1"/>
<rect x="591" y="83" width="1" height="1"/>
<rect x="591" y="111" width="1" height="1"/>
<rect x="591" y="139" width="1" height="1"/>
<rect x="591" y="168" width="1" height="1"/>
<rect x="591" y="196" width="1" height="1"/>
<rect x="591" y="224" width="1" height="1"/>
<rect x="591" y="252" width="1" height="1"/>
<rect x="591" y="280" width="1" height="1"/>
<rect x="591" y="308" width="1" height="1"/>
<rect x="591" y="336" width="1" height="1"/>
<rect x="591" y="364" width="1" height="1"/>
<rect x="591" y="392" width="1" height="1"/>
<rect x="591" y="420" width="1" height="1"/>
<rect x="591" y="448" width="1" height="1"/>
<rect x="591" y="477" width="1" height="1"/>
<rect x="591" y="505" width="1" height="1"/>
<rect x="591" y="533" width="1" height="1"/>
<rect x="591" y="561" width="1" height="1"/>
<rect x="591" y="589" width="1" height="1"/>
<rect x="591" y="617" width="1" height="1"/>
<rect x="591" y="645" width="1" height="1"/>
<rect x="591" y="673" width="1" height="1"/>
<rect x="591" y="701" width="1" height="1"/>
<rect x="591" y="729" width="1" height="1"/>
<rect x="591" y="757" width="1" height="1"/>
<rect x="591" y="786" width="1" height="1"/>
<rect x="591" y="814" width="1" height="1"/>
<rect x="619" y="27" width="1" height="1"/>
<rect x="619" y="55" width="1" height="1"/>
<rect x="619" y="83" width="1" height="1"/>
<rect x="619" y="111" width="1" height="1"/>
<rect x="619" y="139" width="1" height="1"/>
<rect x="619" y="168" width="1" height="1"/>
<rect x="619" y="196" width="1" height="1"/>
<rect x="619" y="224" width="1" height="1"/>
<rect x="619" y="252" width="1" height="1"/>
<rect x="619" y="280" width="1" height="1"/>
<rect x="619" y="308" width="1" height="1"/>
<rect x="619" y="336" width="1" height="1"/>
<rect x="619" y="364" width="1" height="1"/>
<rect x="619" y="392" width="1" height="1"/>
<rect x="619" y="420" width="1" height="1"/>
<rect x="619" y="448" width="1" height="1"/>
<rect x="619" y="477" width="1" height="1"/>
<rect x="619" y="505" width="1" height="1"/>
<rect x="619" y="533" width="1" height="1"/>
<rect x="619" y="561" width="1" height="1"/>
<rect x="619" y="589" width="1" height="1"/>
<rect x="619" y="617" width="1" height="1"/>
<rect x="619" y="645" width="1" height="1"/>
<rect x="619" y="673" width="1" height="1"/>
<rect x="619" y="701" width="1" height="1"/>
<rect x="619" y="729" width="1" height="1"/>
<rect x="619" y="757" width="1" height="1"/>
<rect x="619" y="786" width="1" height="1"/>
<rect x="619" y="814" width="1" height="1"/>
<rect x="647" y="27" width="1" height="1"/>
<rect x="647" y="55" width="1" height="1"/>
<rect x="647" y="83" width="1" height="1"/>
<rect x="647" y="111" width="1" height="1"/>
<rect x="647" y="139" width="1" height="1"/>
<rect x="647" y="168" width="1" height="1"/>
<rect x="647" y="196" width="1" height="1"/>
<rect x="647" y="224" width="1" height="1"/>
<rect x="647" y="252" width="1" height="1"/>
<rect x="647" y="280" width="1" height="1"/>
<rect x="647" y="308" width="1" height="1"/>
<rect x="647" y="336" width="1" height="1"/>
<rect x="647" y="364" width="1" height="1"/>
<rect x="647" y="392" width="1" height="1"/>
<rect x="647" y="420" width="1" height="1"/>
<rect x="647" y="448" width="1" height="1"/>
<rect x="647" y="477" width="1" height="1"/>
<rect x="647" y="505" width="1" height="1"/>
<rect x="647" y="533" width="1" height="1"/>
<rect x="647" y="561" width="1" height="1"/>
<rect x="647" y="589" width="1" height="1"/>
<rect x="647" y="617" width="1" height="1"/>
<rect x="647" y="645" width="1" height="1"/>
<rect x="647" y="673" width="1" height="1"/>
<rect x="647" y="701" width="1" height="1"/>
<rect x="647" y="729" width="1" height="1"/>
<rect x="647" y="757" width="1" height="1"/>
<rect x="647" y="786" width="1" height="1"/>
<rect x="647" y="814" width="1" height="1"/>
<rect x="675" y="27" width="1" height="1"/>
<rect x="675" y="55" width="1" height="1"/>
<rect x="675" y="83" width="1" height="1"/>
<rect x="675" y="111" width="1" height="1"/>
<rect x="675" y="139" width="1" height="1"/>
<rect x="675" y="168" width="1" height="1"/>
<rect x="675" y="196" width="1" height="1"/>
<rect x="675" y="224" width="1" height="1"/>
<rect x="675" y="252" width="1" height="1"/>
<rect x="675" y="280" width="1" height="1"/>
<rect x="675" y="308" width="1" height="1"/>
<rect x="675" y="336" width="1" height="1"/>
<rect x="675" y="364" width="1" height="1"/>
<rect x="675" y="392" width="1" height="1"/>
<rect x="675" y="420" width="1" height="1"/>
<rect x="675" y="448" width="1" height="1"/>
<rect x="675" y="477" width="1" height="1"/>
<rect x="675" y="505" width="1" height="1"/>
<rect x="675" y="533" width="1" height="1"/>
<rect x="675" y="561" width="1" height="1"/>
<rect x="675" y="589" width="1" height="1"/>
<rect x="675" y="617" width="1" height="1"/>
<rect x="675" y="645" width="1" height="1"/>
<rect x="675" y="673" width="1" height="1"/>
<rect x="675" y="701" width="1" height="1"/>
<rect x="675" y="729" width="1" height="1"/>
<rect x="675" y="757" width="1" height="1"/>
<rect x="675" y="786" width="1" height="1"/>
<rect x="675" y="814" width="1" height="1"/>
<rect x="703" y="27" width="1" height="1"/>
<rect x="703" y="55" width="1" height="1"/>
<rect x="703" y="83" width="1" height="1"/>
<rect x="703" y="111" width="1" height="1"/>
<rect x="703" y="139" width="1" height="1"/>
<rect x="703" y="168" width="1" height="1"/>
<rect x="703" y="196" width="1" height="1"/>
<rect x="703" y="224" width="1" height="1"/>
<rect x="703" y="252" width="1" height="1"/>
<rect x="703" y="280" width="1" height="1"/>
<rect x="703" y="308" width="1" height="1"/>
<rect x="703" y="336" width="1" height="1"/>
<rect x="703" y="364" width="1" height="1"/>
<rect x="703" y="392" width="1" height="1"/>
<rect x="703" y="420" width="1" height="1"/>
<rect x="703" y="448" width="1" height="1"/>
<rect x="703" y="477" width="1" height="1"/>
<rect x="703" y="505" width="1" height="1"/>
<rect x="703" y="533" width="1" height="1"/>
<rect x="703" y="561" width="1" height="1"/>
<rect x="703" y="589" width="1" height="1"/>
<rect x="703" y="617" width="1" height="1"/>
<rect x="703" y="645" width="1" height="1"/>
<rect x="703" y="673" width="1" height="1"/>
<rect x="703" y="701" width="1" height="1"/>
<rect x="703" y="729" width="1" height="1"/>
<rect x="703" y="757" width="1" height="1"/>
<rect x="703" y="786" width="1" height="1"/>
<rect x="703" y="814" width="1" height="1"/>
<rect x="731" y="27" width="1" height="1"/>
<rect x="731" y="55" width="1" height="1"/>
<rect x="731" y="83" width="1" height="1"/>
<rect x="731" y="111" width="1" height="1"/>
<rect x="731" y="139" width="1" height="1"/>
<rect x="731" y="168" width="1" height="1"/>
<rect x="731" y="196" width="1" height="1"/>
<rect x="731" y="224" width="1" height="1"/>
<rect x="731" y="252" width="1" height="1"/>
<rect x="731" y="280" width="1" height="1"/>
<rect x="731" y="308" width="1" height="1"/>
<rect x="731" y="336" width="1" height="1"/>
<rect x="731" y="364" width="1" height="1"/>
<rect x="731" y="392" width="1" height="1"/>
<rect x="731" y="420" width="1" height="1"/>
<rect x="731" y="448" width="1" height="1"/>
<rect x="731" y="477" width="1" height="1"/>
<rect x="731" y="505" width="1" height="1"/>
<rect x="731" y="533" width="1" height="1"/>
<rect x="731" y="561" width="1" height="1"/>
<rect x="731" y="589" width="1" height="1"/>
<rect x="731" y="617" width="1" height="1"/>
<rect x="731" y="645" width="1" height="1"/>
<rect x="731" y="673" width="1" height="1"/>
<rect x="731" y="701" width="1" height="1"/>
<rect x="731" y="729" width="1" height="1"/>
<rect x="731" y="757" width="1" height="1"/>
<rect x="731" y="786" width="1" height="1"/>
<rect x="731" y="814" width="1" height="1"/>
<rect x="760" y="27" width="1" height="1"/>
<rect x="760" y="55" width="1" height="1"/>
<rect x="760" y="83" width="1" height="1"/>
<rect x="760" y="111" width="1" height="1"/>
<rect x="760" y="139" width="1" height="1"/>
<rect x="760" y="168" width="1" height="1"/>
<rect x="760" y="196" width="1" height="1"/>
<rect x="760" y="224" width="1" height="1"/>
<rect x="760" y="252" width="1" height="1"/>
<rect x="760" y="280" width="1" height="1"/>
<rect x="760" y="308" width="1" height="1"/>
<rect x="760" y="336" width="1" height="1"/>
<rect x="760" y="364" width="1" height="1"/>
<rect x="760" y="392" width="1" height="1"/>
<rect x="760" y="420" width="1" height="1"/>
<rect x="760" y="448" width="1" height="1"/>
<rect x="760" y="477" width="1" height="1"/>
<rect x="760" y="505" width="1" height="1"/>
<rect x="760" y="533" width="1" height="1"/>
<rect x="760" y="561" width="1" height="1"/>
<rect x="760" y="589" width="1" height="1"/>
<rect x="760" y="617" width="1" height="1"/>
<rect x="760" y="645" width="1" height="1"/>
<rect x="760" y="673" width="1" height="1"/>
<rect x="760" y="701" width="1" height="1"/>
<rect x="760" y="729" width="1" height="1"/>
<rect x="760" y="757" width="1" height="1"/>
<rect x="760" y="786" width="1" height="1"/>
<rect x="760" y="814" width="1" height="1"/>
<rect x="788" y="27" width="1" height="1"/>
<rect x="788" y="55" width="1" height="1"/>
<rect x="788" y="83" width="1" height="1"/>
<rect x="788" y="111" width="1" height="1"/>
<rect x="788" y="139" width="1" height="1"/>
<rect x="788" y="168" width="1" height="1"/>
<rect x="788" y="196" width="1" height="1"/>
<rect x="788" y="224" width="1" height="1"/>
<rect x="788" y="252" width="1" height="1"/>
<rect x="788" y="280" width="1" height="1"/>
<rect x="788" y="308" width="1" height="1"/>
<rect x="788" y="336" width="1" height="1"/>
<rect x="788" y="364" width="1" height="1"/>
<rect x="788" y="392" width="1" height="1"/>
<rect x="788" y="420" width="1" height="1"/>
<rect x="788" y="448" width="1" height="1"/>
<rect x="788" y="477" width="1" height="1"/>
<rect x="788" y="505" width="1" height="1"/>
<rect x="788" y="533" width="1" height="1"/>
<rect x="788" y="561" width="1" height="1"/>
<rect x="788" y="589" width="1" height="1"/>
<rect x="788" y="617" width="1" height="1"/>
<rect x="788" y="645" width="1" height="1"/>
<rect x="788" y="673" width="1" height="1"/>
<rect x="788" y="701" width="1" height="1"/>
<rect x="788" y="729" width="1" height="1"/>
<rect x="788" y="757" width="1" height="1"/>
<rect x="788" y="786" width="1" height="1"/>
<rect x="788" y="814" width="1" height="1"/>
<rect x="816" y="27" width="1" height="1"/>
<rect x="816" y="55" width="1" height="1"/>
<rect x="816" y="83" width="1" height="1"/>
<rect x="816" y="111" width="1" height="1"/>
<rect x="816" y="139" width="1" height="1"/>
<rect x="816" y="168" width="1" height="1"/>
<rect x="816" y="196" width="1" height="1"/>
<rect x="816" y="224" width="1" height="1"/>
<rect x="816" y="252" width="1" height="1"/>
<rect x="816" y="280" width="1" height="1"/>
<rect x="816" y="308" width="1" height="1"/>
<rect x="816" y="336" width="1" height="1"/>
<rect x="816" y="364" width="1" height="1"/>
<rect x="816" y="392" width="1" height="1"/>
<rect x="816" y="420" width="1" height="1"/>
<rect x="816" y="448" width="1" height="1"/>
<rect x="816" y="477" width="1" height="1"/>
<rect x="816" y="505" width="1" height="1"/>
<rect x="816" y="533" width="1" height="1"/>
<rect x="816" y="561" width="1" height="1"/>
<rect x="816" y="589" width="1" height="1"/>
<rect x="816" y="617" width="1" height="1"/>
<rect x="816" y="645" width="1" height="1"/>
<rect x="816" y="673" width="1" height="1"/>
<rect x="816" y="701" width="1" height="1"/>
<rect x="816" y="729" width="1" height="1"/>
<rect x="816" y="757" width="1" height="1"/>
<rect x="816" y="786" width="1" height="1"/>
<rect x="816" y="814" width="1" height="1"/>
<rect x="844" y="27" width="1" height="1"/>
<rect x="844" y="55" width="1" height="1"/>
<rect x="844" y="83" width="1" height="1"/>
<rect x="844" y="111" width="1" height="1"/>
<rect x="844" y="139" width="1" height="1"/>
<rect x="844" y="168" width="1" height="1"/>
<rect x="844" y="196" width="1" height="1"/>
<rect x="844" y="224" width="1" height="1"/>
<rect x="844" y="252" width="1" height="1"/>
<rect x="844" y="280" width="1" height="1"/>
<rect x="844" y="308" width="1" height="1"/>
<rect x="844" y="336" width="1" height="1"/>
<rect x="844" y="364" width="1" height="1"/>
<rect x="844" y="392" width="1" height="1"/>
<rect x="844" y="420" width="1" height="1"/>
<rect x="844" y="448" width="1" height="1"/>
<rect x="844" y="477" width="1" height="1"/>
<rect x="844" y="505" width="1" height="1"/>
<rect x="844" y="533" width="1" height="1"/>
<rect x="844" y="561" width="1" height="1"/>
<rect x="844" y="589" width="1" height="1"/>
<rect x="844" y="617" width="1" height="1"/>
<rect x="844" y="645" width="1" height="1"/>
<rect x="844" y="673" width="1" height="1"/>
<rect x="844" y="701" width="1" height="1"/>
<rect x="844" y="729" width="1" height="1"/>
<rect x="844" y="757" width="1" height="1"/>
<rect x="844" y="786" width="1" height="1"/>
<rect x="844" y="814" width="1" height="1"/>
<rect x="872" y="27" width="1" height="1"/>
<rect x="872" y="55" width="1" height="1"/>
<rect x="872" y="83" width="1" height="1"/>
<rect x="872" y="111" width="1" height="1"/>
<rect x="872" y="139" width="1" height="1"/>
<rect x="872" y="168" width="1" height="1"/>
<rect x="872" y="196" width="1" height="1"/>
<rect x="872" y="224" width="1" height="1"/>
<rect x="872" y="252" width="1" height="1"/>
<rect x="872" y="280" width="1" height="1"/>
<rect x="872" y="308" width="1" height="1"/>
<rect x="872" y="336" width="1" height="1"/>
<rect x="872" y="364" width="1" height="1"/>
<rect x="872" y="392" width="1" height="1"/>
<rect x="872" y="420" width="1" height="1"/>
<rect x="872" y="448" width="1" height="1"/>
<rect x="872" y="477" width="1" height="1"/>
<rect x="872" y="505" width="1" height="1"/>
<rect x="872" y="533" width="1" height="1"/>
<rect x="872" y="561" width="1" height="1"/>
<rect x="872" y="589" width="1" height="1"/>
<rect x="872" y="617" width="1" height="1"/>
<rect x="872" y="645" width="1" height="1"/>
<rect x="872" y="673" width="1" height="1"/>
<rect x="872" y="701" width="1" height="1"/>
<rect x="872" y="729" width="1" height="1"/>
<rect x="872" y="757" width="1" height="1"/>
<rect x="872" y="786" width="1" height="1"/>
<rect x="872" y="814" width="1" height="1"/>
<rect x="900" y="27" width="1" height="1"/>
<rect x="900" y="55" width="1" height="1"/>
<rect x="900" y="83" width="1" height="1"/>
<rect x="900" y="111" width="1" height="1"/>
<rect x="900" y="139" width="1" height="1"/>
<rect x="900" y="168" width="1" height="1"/>
<rect x="900" y="196" width="1" height="1"/>
<rect x="900" y="224" width="1" height="1"/>
<rect x="900" y="252" width="1" height="1"/>
<rect x="900" y="280" width="1" height="1"/>
<rect x="900" y="308" width="1" height="1"/>
<rect x="900" y="336" width="1" height="1"/>
<rect x="900" y="364" width="1" height="1"/>
<rect x="900" y="392" width="1" height="1"/>
<rect x="900" y="420" width="1" height="1"/>
<rect x="900" y="448" width="1" height="1"/>
<rect x="900" y="477" width="1" height="1"/>
<rect x="900" y="505" width="1" height="1"/>
<rect x="900" y="533" width="1" height="1"/>
<rect x="900" y="561" width="1" height="1"/>
<rect x="900" y="589" width="1" height="1"/>
<rect x="900" y="617" width="1" height="1"/>
<rect x="900" y="645" width="1" height="1"/>
<rect x="900" y="673" width="1" height="1"/>
<rect x="900" y="701" width="1" height="1"/>
<rect x="900" y="729" width="1" height="1"/>
<rect x="900" y="757" width="1" height="1"/>
<rect x="900" y="786" width="1" height="1"/>
<rect x="900" y="814" width="1" height="1"/>
<rect x="928" y="27" width="1" height="1"/>
<rect x="928" y="55" width="1" height="1"/>
<rect x="928" y="83" width="1" height="1"/>
<rect x="928" y="111" width="1" height="1"/>
<rect x="928" y="139" width="1" height="1"/>
<rect x="928" y="168" width="1" height="1"/>
<rect x="928" y="196" width="1" height="1"/>
<rect x="928" y="224" width="1" height="1"/>
<rect x="928" y="252" width="1" height="1"/>
<rect x="928" y="280" width="1" height="1"/>
<rect x="928" y="308" width="1" height="1"/>
<rect x="928" y="336" width="1" height="1"/>
<rect x="928" y="364" width="1" height="1"/>
<rect x="928" y="392" width="1" height="1"/>
<rect x="928" y="420" width="1" height="1"/>
<rect x="928" y="448" width="1" height="1"/>
<rect x="928" y="477" width="1" height="1"/>
<rect x="928" y="505" width="1" height="1"/>
<rect x="928" y="533" width="1" height="1"/>
<rect x="928" y="561" width="1" height="1"/>
<rect x="928" y="589" width="1" height="1"/>
<rect x="928" y="617" width="1" height="1"/>
<rect x="928" y="645" width="1" height="1"/>
<rect x="928" y="673" width="1" height="1"/>
<rect x="928" y="701" width="1" height="1"/>
<rect x="928" y="729" width="1" height="1"/>
<rect x="928" y="757" width="1" height="1"/>
<rect x="928" y="786" width="1" height="1"/>
<rect x="928" y="814" width="1" height="1"/>
<rect x="956" y="27" width="1" height="1"/>
<rect x="956" y="55" width="1" height="1"/>
<rect x="956" y="83" width="1" height="1"/>
<rect x="956" y="111" width="1" height="1"/>
<rect x="956" y="139" width="1" height="1"/>
<rect x="956" y="168" width="1" height="1"/>
<rect x="956" y="196" width="1" height="1"/>
<rect x="956" y="224" width="1" height="1"/>
<rect x="956" y="252" width="1" height="1"/>
<rect x="956" y="280" width="1" height="1"/>
<rect x="956" y="308" width="1" height="1"/>
<rect x="956" y="336" width="1" height="1"/>
<rect x="956" y="364" width="1" height="1"/>
<rect x="956" y="392" width="1" height="1"/>
<rect x="956" y="420" width="1" height="1"/>
<rect x="956" y="448" width="1" height="1"/>
<rect x="956" y="477" width="1" height="1"/>
<rect x="956" y="505" width="1" height="1"/>
<rect x="956" y="533" width="1" height="1"/>
<rect x="956" y="561" width="1" height="1"/>
<rect x="956" y="589" width="1" height="1"/>
<rect x="956" y="617" width="1" height="1"/>
<rect x="956" y="645" width="1" height="1"/>
<rect x="956" y="673" width="1" height="1"/>
<rect x="956" y="701" width="1" height="1"/>
<rect x="956" y="729" width="1" height="1"/>
<rect x="956" y="757" width="1" height="1"/>
<rect x="956" y="786" width="1" height="1"/>
<rect x="956" y="814" width="1" height="1"/>
<rect x="984" y="27" width="1" height="1"/>
<rect x="984" y="55" width="1" height="1"/>
<rect x="984" y="83" width="1" height="1"/>
<rect x="984" y="111" width="1" height="1"/>
<rect x="984" y="139" width="1" height="1"/>
<rect x="984" y="168" width="1" height="1"/>
<rect x="984" y="196" width="1" height="1"/>
<rect x="984" y="224" width="1" height="1"/>
<rect x="984" y="252" width="1" height="1"/>
<rect x="984" y="280" width="1" height="1"/>
<rect x="984" y="308" width="1" height="1"/>
<rect x="984" y="336" width="1" height="1"/>
<rect x="984" y="364" width="1" height="1"/>
<rect x="984" y="392" width="1" height="1"/>
<rect x="984" y="420" width="1" height="1"/>
<rect x="984" y="448" width="1" height="1"/>
<rect x="984" y="477" width="1" height="1"/>
<rect x="984" y="505" width="1" height="1"/>
<rect x="984" y="533" width="1" height="1"/>
<rect x="984" y="561" width="1" height="1"/>
<rect x="984" y="589" width="1" height="1"/>
<rect x="984" y="617" width="1" height="1"/>
<rect x="984" y="645" width="1" height="1"/>
<rect x="984" y="673" width="1" height="1"/>
<rect x="984" y="701" width="1" height="1"/>
<rect x="984" y="729" width="1" height="1"/>
<rect x="984" y="757" width="1" height="1"/>
<rect x="984" y="786" width="1" height="1"/>
<rect x="984" y="814" width="1" height="1"/>
<rect x="1012" y="27" width="1" height="1"/>
<rect x="1012" y="55" width="1" height="1"/>
<rect x="1012" y="83" width="1" height="1"/>
<rect x="1012" y="111" width="1" height="1"/>
<rect x="1012" y="139" width="1" height="1"/>
<rect x="1012" y="168" width="1" height="1"/>
<rect x="1012" y="196" width="1" height="1"/>
<rect x="1012" y="224" width="1" height="1"/>
<rect x="1012" y="252" width="1" height="1"/>
<rect x="1012" y="280" width="1" height="1"/>
<rect x="1012" y="308" width="1" height="1"/>
<rect x="1012" y="336" width="1" height="1"/>
<rect x="1012" y="364" width="1" height="1"/>
<rect x="1012" y="392" width="1" height="1"/>
<rect x="1012" y="420" width="1" height="1"/>
<rect x="1012" y="448" width="1" height="1"/>
<rect x="1012" y="477" width="1" height="1"/>
<rect x="1012" y="505" width="1" height="1"/>
<rect x="1012" y="533" width="1" height="1"/>
<rect x="1012" y="561" width="1" height="1"/>
<rect x="1012" y="589" width="1" height="1"/>
<rect x="1012" y="617" width="1" height="1"/>
<rect x="1012" y="645" width="1" height="1"/>
<rect x="1012" y="673" width="1" height="1"/>
<rect x="1012" y="701" width="1" height="1"/>
<rect x="1012" y="729" width="1" height="1"/>
<rect x="1012" y="757" width="1" height="1"/>
<rect x="1012" y="786" width="1" height="1"/>
<rect x="1012" y="814" width="1" height="1"/>
<rect x="1040" y="27" width="1" height="1"/>
<rect x="1040" y="55" width="1" height="1"/>
<rect x="1040" y="83" width="1" height="1"/>
<rect x="1040" y="111" width="1" height="1"/>
<rect x="1040" y="139" width="1" height="1"/>
<rect x="1040" y="168" width="1" height="1"/>
<rect x="1040" y="196" width="1" height="1"/>
<rect x="1040" y="224" width="1" height="1"/>
<rect x="1040" y="252" width="1" height="1"/>
<rect x="1040" y="280" width="1" height="1"/>
<rect x="1040" y="308" width="1" height="1"/>
<rect x="1040" y="336" width="1" height="1"/>
<rect x="1040" y="364" width="1" height="1"/>
<rect x="1040" y="392" width="1" height="1"/>
<rect x="1040" y="420" width="1" height="1"/>
<rect x="1040" y="448" width="1" height="1"/>
<rect x="1040" y="477" width="1" height="1"/>
<rect x="1040" y="505" width="1" height="1"/>
<rect x="1040" y="533" width="1" height="1"/>
<rect x="1040" y="561" width="1" height="1"/>
<rect x="1040" y="589" width="1" height="1"/>
<rect x="1040" y="617" width="1" height="1"/>
<rect x="1040" y="645" width="1" height="1"/>
<rect x="1040" y="673" width="1" height="1"/>
<rect x="1040" y="701" width="1" height="1"/>
<rect x="1040" y="729" width="1" height="1"/>
<rect x="1040" y="757" width="1" height="1"/>
<rect x="1040" y="786" width="1" height="1"/>
<rect x="1040" y="814" width="1" height="1"/>
</g>
<g fill="none" stroke="#ffff00" stroke-width="3">
<path d="M211.28 98.24 L240.66 98.24 A31.0 31.0 0 1 1 211.28 98.24 Z"/>
<path d="M379.80 98.24 L409.18 98.24 A31.0 31.0 0 1 1 379.80 98.24 Z"/>
<path d="M548.31 98.24 L577.69 98.24 A31.0 31.0 0 1 1 548.31 98.24 Z"/>
<path d="M716.81 98.24 L746.19 98.24 A31.0 31.0 0 1 1 716.81 98.24 Z"/>
<path d="M885.32 98.24 L914.70 98.24 A31.0 31.0 0 1 1 885.32 98.24 Z"/>
<path d="M211.28 238.63 L240.66 238.63 A31.0 31.0 0 1 1 211.28 238.63 Z"/>
<path d="M379.80 238.63 L409.18 238.63 A31.0 31.0 0 1 1 379.80 238.63 Z"/>
<path d="M548.31 238.63 L577.69 238.63 A31.0 31.0 0 1 1 548.31 238.63 Z"/>
<path d="M716.81 238.63 L746.19 238.63 A31.0 31.0 0 1 1 716.81 238.63 Z"/>
<path d="M885.32 238.63 L914.70 238.63 A31.0 31.0 0 1 1 885.32 238.63 Z"/>
<path d="M211.28 379.02 L240.66 379.02 A31.0 31.0 0 1 1 211.28 379.02 Z"/>
<path d="M379.80 379.02 L409.18 379.02 A31.0 31.0 0 1 1 379.80 379.02 Z"/>
<path d="M548.31 379.02 L577.69 379.02 A31.0 31.0 0 1 1 548.31 379.02 Z"/>
<path d="M716.81 379.02 L746.19 379.02 A31.0 31.0 0 1 1 716.81 379.02 Z"/>
<path d="M885.32 379.02 L914.70 379.02 A31.0 31.0 0 1 1 885.32 379.02 Z"/>
<path d="M211.28 519.41 L240.66 519.41 A31.0 31.0 0 1 1 211.28 519.41 Z"/>
<path d="M379.80 519.41 L409.18 519.41 A31.0 31.0 0 1 1 379.80 519.41 Z"/>
<path d="M548.31 519.41 L577.69 519.41 A31.0 31.0 0 1 1 548.31 519.41 Z"/>
<path d="M716.81 519.41 L746.19 519.41 A31.0 31.0 0 1 1 716.81 519.41 Z"/>
<path d="M885.32 519.41 L914.70 519.41 A31.0 31.0 0 1 1 885.32 519.41 Z"/>
<path d="M211.28 659.80 L240.66 659.80 A31.0 31.0 0 1 1 211.28 659.80 Z"/>
<path d="M379.80 659.80 L409.18 659.80 A31.0 31.0 0 1 1 379.80 659.80 Z"/>
<path d="M548.31 659.80 L577.69 659.80 A31.0 31.0 0 1 1 548.31 659.80 Z"/>
<path d="M716.81 659.80 L746.19 659.80 A31.0 31.0 0 1 1 716.81 659.80 Z"/>
<path d="M885.32 659.80 L914.70 659.80 A31.0 31.0 0 1 1 885.32 659.80 Z"/>
<rect x="146.32" y="160.68" width="61.0" height="28.0" rx="1"/>
<path d="M146.32 174.68 h-5 M207.32 174.68 h5"/>
<rect x="146.32" y="301.07" width="61.0" height="28.0" rx="1"/>
<path d="M146.32 315.07 h-5 M207.32 315.07 h5"/>
<rect x="146.32" y="441.46" width="61.0" height="28.0" rx="1"/>
<path d="M146.32 455.46 h-5 M207.32 455.46 h5"/>
<rect x="146.32" y="581.85" width="61.0" height="28.0" rx="1"/>
<path d="M146.32 595.85 h-5 M207.32 595.85 h5"/>
<rect x="146.32" y="722.24" width="61.0" height="28.0" rx="1"/>
<path d="M146.32 736.24 h-5 M207.32 736.24 h5"/>
<rect x="188.46" y="195.78" width="61.0" height="28.0" rx="1"/>
<path d="M188.46 209.78 h-5 M249.46 209.78 h5"/>
<rect x="188.46" y="336.17" width="61.0" height="28.0" rx="1"/>
<path d="M188.46 350.17 h-5 M249.46 350.17 h5"/>
<rect x="188.46" y="476.56" width="61.0" height="28.0" rx="1"/>
<path d="M188.46 490.56 h-5 M249.46 490.56 h5"/>
<rect x="188.46" y="616.95" width="61.0" height="28.0" rx="1"/>
<path d="M188.46 630.95 h-5 M249.46 630.95 h5"/>
<rect x="890.58" y="167.70" width="61.0" height="28.0" rx="1"/>
<path d="M890.58 181.70 h-5 M951.58 181.70 h5"/>
<rect x="890.58" y="308.09" width="61.0" height="28.0" rx="1"/>
<path d="M890.58 322.09 h-5 M951.58 322.09 h5"/>
<rect x="890.58" y="448.48" width="61.0" height="28.0" rx="1"/>
<path d="M890.58 462.48 h-5 M951.58 462.48 h5"/>
<rect x="890.58" y="588.87" width="61.0" height="28.0" rx="1"/>
<path d="M890.58 602.87 h-5 M951.58 602.87 h5"/>
<rect x="869.51" y="202.80" width="61.0" height="28.0" rx="1"/>
<path d="M869.51 216.80 h-5 M930.51 216.80 h5"/>
<rect x="869.51" y="343.19" width="61.0" height="28.0" rx="1"/>
<path d="M869.51 357.19 h-5 M930.51 357.19 h5"/>
<rect x="869.51" y="483.58" width="61.0" height="28.0" rx="1"/>
<path d="M869.51 497.58 h-5 M930.51 497.58 h5"/>
<rect x="869.51" y="623.97" width="61.0" height="28.0" rx="1"/>
<path d="M869.51 637.97 h-5 M930.51 637.97 h5"/>
</g>
<g fill="#a00000">
<rect x="393.0" y="96.0" width="3" height="3"/>
<rect x="378.9" y="81.9" width="3" height="3"/>
<rect x="182.3" y="81.9" width="3" height="3"/>
<rect x="168.3" y="96.0" width="3" height="3"/>
<rect x="168.3" y="762.8" width="3" height="3"/>
<rect x="182.3" y="776.9" width="3" height="3"/>
<rect x="378.9" y="776.9" width="3" height="3"/>
<rect x="393.0" y="762.8" width="3" height="3"/>
<rect x="210.4" y="110.0" width="3" height="3"/>
<rect x="196.4" y="124.0" width="3" height="3"/>
<rect x="196.4" y="741.8" width="3" height="3"/>
<rect x="210.4" y="755.8" width="3" height="3"/>
<rect x="252.6" y="755.8" width="3" height="3"/>
<rect x="273.6" y="734.7" width="3" height="3"/>
<rect x="350.9" y="734.7" width="3" height="3"/>
<rect x="364.9" y="748.8" width="3" height="3"/>
<rect x="561.5" y="74.9" width="3" height="3"/>
<rect x="575.5" y="60.9" width="3" height="3"/>
<rect x="954.7" y="60.9" width="3" height="3"/>
<rect x="968.7" y="74.9" width="3" height="3"/>
<rect x="968.7" y="783.9" width="3" height="3"/>
<rect x="954.7" y="797.9" width="3" height="3"/>
<rect x="435.1" y="797.9" width="3" height="3"/>
<rect x="421.1" y="783.9" width="3" height="3"/>
<rect x="730.0" y="96.0" width="3" height="3"/>
<rect x="744.0" y="81.9" width="3" height="3"/>
<rect x="933.6" y="81.9" width="3" height="3"/>
<rect x="947.7" y="96.0" width="3" height="3"/>
<rect x="947.7" y="755.8" width="3" height="3"/>
<rect x="926.6" y="776.9" width="3" height="3"/>
<rect x="463.2" y="776.9" width="3" height="3"/>
<rect x="449.2" y="762.8" width="3" height="3"/>
<rect x="912.6" y="110.0" width="3" height="3"/>
<rect x="926.6" y="124.0" width="3" height="3"/>
<rect x="926.6" y="741.8" width="3" height="3"/>
<rect x="912.6" y="755.8" width="3" height="3"/>
<rect x="378.9" y="208.3" width="3" height="3"/>
<rect x="393.0" y="222.3" width="3" height="3"/>
<rect x="575.5" y="180.2" width="3" height="3"/>
<rect x="561.5" y="194.2" width="3" height="3"/>
<rect x="744.0" y="215.3" width="3" height="3"/>
<rect x="730.0" y="229.3" width="3" height="3"/>
<rect x="203.4" y="250.4" width="3" height="3"/>
<rect x="919.6" y="250.4" width="3" height="3"/>
<rect x="378.9" y="348.7" width="3" height="3"/>
<rect x="393.0" y="362.7" width="3" height="3"/>
<rect x="575.5" y="320.6" width="3" height="3"/>
<rect x="561.5" y="334.6" width="3" height="3"/>
<rect x="744.0" y="355.7" width="3" height="3"/>
<rect x="730.0" y="369.7" width="3" height="3"/>
<rect x="203.4" y="390.8" width="3" height="3"/>
<rect x="919.6" y="390.8" width="3" height="3"/>
<rect x="378.9" y="489.1" width="3" height="3"/>
<rect x="393.0" y="503.1" width="3" height="3"/>
<rect x="575.5" y="461.0" width="3" height="3"/>
<rect x="561.5" y="475.0" width="3" height="3"/>
<rect x="744.0" y="496.1" width="3" height="3"/>
<rect x="730.0" y="510.1" width="3" height="3"/>
<rect x="203.4" y="531.2" width="3" height="3"/>
<rect x="919.6" y="531.2" width="3" height="3"/>
<rect x="378.9" y="629.5" width="3" height="3"/>
<rect x="393.0" y="643.5" width="3" height="3"/>
<rect x="575.5" y="601.4" width="3" height="3"/>
<rect x="561.5" y="615.4" width="3" height="3"/>
<rect x="744.0" y="636.5" width="3" height="3"/>
<rect x="730.0" y="650.5" width="3" height="3"/>
<rect x="203.4" y="671.6" width="3" height="3"/>
<rect x="919.6" y="671.6" width="3" height="3"/>
<rect x="856.5" y="60.8" width="3" height="3"/>
<rect x="870.5" y="60.8" width="3" height="3"/>
<rect x="196.4" y="243.4" width="3" height="3"/>
<rect x="210.4" y="250.4" width="3" height="3"/>
<rect x="912.6" y="250.4" width="3" height="3"/>
<rect x="926.6" y="243.4" width="3" height="3"/>
<rect x="196.4" y="383.8" width="3" height="3"/>
<rect x="210.4" y="390.8" width="3" height="3"/>
<rect x="912.6" y="390.8" width="3" height="3"/>
<rect x="926.6" y="383.8" width="3" height="3"/>
<rect x="196.4" y="524.1" width="3" height="3"/>
<rect x="210.4" y="531.2" width="3" height="3"/>
<rect x="912.6" y="531.2" width="3" height="3"/>
<rect x="926.6" y="524.1" width="3" height="3"/>
<rect x="196.4" y="664.5" width="3" height="3"/>
<rect x="210.4" y="671.6" width="3" height="3"/>
<rect x="912.6" y="671.6" width="3" height="3"/>
<rect x="926.6" y="664.5" width="3" height="3"/>
</g>
<g stroke="#e8e870" stroke-width="1" fill="none">
<path d="M1.5 0 V842 M0 3.5 H5.5 V0 M1068.5 0 V838"/>
</g>
<rect x="1064" y="838" width="7" height="4" fill="#ffff00"/>
</svg>
<div class="lbl" style="left:27px;top:271px;width:85px;height:61px;"><span style="position:absolute;left:2px;top:3px;font-size:15px;line-height:18px;-webkit-text-stroke:0.45px #000;">Voeding<span style="letter-spacing:0.6px"> --&gt;</span></span></div>
<div class="lbl" style="left:324px;top:808px;width:300px;height:25px;"><span style="position:absolute;left:1px;top:3px;font-size:15px;line-height:18px;letter-spacing:0.45px;-webkit-text-stroke:0.45px #000;">Stuursignalen</span></div>
</body></html>
